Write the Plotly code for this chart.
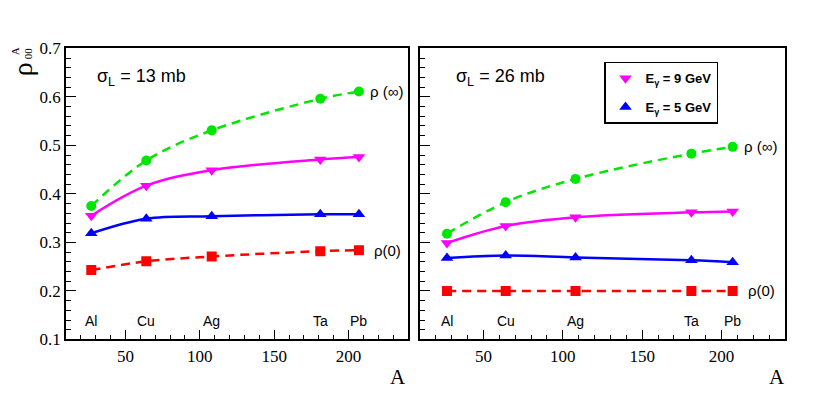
import plotly.graph_objects as go

# mass numbers of the targets
A = [27, 64, 108, 181, 207]
targets = ["Al", "Cu", "Ag", "Ta", "Pb"]

# sigma_L = 13 mb
rho_inf_13 = [0.375, 0.469, 0.531, 0.596, 0.611]
e9_13 = [0.355, 0.417, 0.449, 0.471, 0.476]
e5_13 = [0.319, 0.349, 0.354, 0.358, 0.358]
rho0_13 = [0.243, 0.261, 0.271, 0.282, 0.284]

# sigma_L = 26 mb
rho_inf_26 = [0.318, 0.383, 0.431, 0.483, 0.497]
e9_26 = [0.299, 0.334, 0.352, 0.362, 0.364]
e5_26 = [0.268, 0.273, 0.269, 0.263, 0.259]
rho0_26 = [0.200, 0.200, 0.200, 0.200, 0.200]

GREEN = "#00e600"
MAGENTA = "#ff00ff"
BLUE = "#0000ff"
RED = "#ff0000"

# page body has an 8px margin, so the figure is a bit smaller and offset
OFF = 8
W, H = 830 - OFF, 397 - OFF
def px(x): return (x - OFF) / W
def py(y): return 1 - (y - OFF) / H

fig = go.Figure()

panels = [
    ("x", "y", rho_inf_13, e9_13, e5_13, rho0_13),
    ("x2", "y2", rho_inf_26, e9_26, e5_26, rho0_26),
]
for xa, ya, r_inf, e9, e5, r0 in panels:
    fig.add_trace(go.Scatter(x=A, y=r_inf, xaxis=xa, yaxis=ya, mode="lines+markers",
                             line=dict(color=GREEN, width=2.5, dash="9px,6px", shape="spline"),
                             marker=dict(symbol="circle", size=10, color=GREEN), showlegend=False))
    fig.add_trace(go.Scatter(x=A, y=e9, xaxis=xa, yaxis=ya, mode="lines+markers",
                             line=dict(color=MAGENTA, width=2.5, shape="spline"),
                             marker=dict(symbol="triangle-down", size=11, color=MAGENTA), showlegend=False))
    fig.add_trace(go.Scatter(x=A, y=e5, xaxis=xa, yaxis=ya, mode="lines+markers",
                             line=dict(color=BLUE, width=2.5, shape="spline"),
                             marker=dict(symbol="triangle-up", size=11, color=BLUE), showlegend=False))
    fig.add_trace(go.Scatter(x=A, y=r0, xaxis=xa, yaxis=ya, mode="lines+markers",
                             line=dict(color=RED, width=2.5, dash="9px,6px", shape="spline"),
                             marker=dict(symbol="square", size=10, color=RED), showlegend=False))

# legend entries (markers only)
fig.add_trace(go.Scatter(x=[None], y=[None], xaxis="x2", yaxis="y2", mode="markers",
                         marker=dict(symbol="triangle-down", size=11, color=MAGENTA),
                         name="<b>E<sub>γ</sub> = 9 GeV</b>", legendgroup="a"))
fig.add_trace(go.Scatter(x=[None], y=[None], xaxis="x2", yaxis="y2", mode="markers",
                         marker=dict(symbol="triangle-up", size=11, color=BLUE),
                         name="<b>E<sub>γ</sub> = 5 GeV</b>", legendgroup="b"))

tickfont = dict(family="Liberation Serif", size=17, color="black")
xcommon = dict(range=[10, 240], tickvals=[50, 100, 150, 200], ticks="inside", ticklen=10,
               tickwidth=1, tickcolor="black", showline=True, linecolor="black", linewidth=1.5,
               mirror=True, showgrid=False, zeroline=False, tickfont=tickfont,
               minor=dict(dtick=10, tick0=0, ticks="inside", ticklen=5, tickcolor="black"))
ycommon = dict(range=[0.1, 0.7], dtick=0.1, tick0=0.1, ticks="inside", ticklen=10,
               tickwidth=1, tickcolor="black", showline=True, linecolor="black", linewidth=1.5,
               mirror=True, showgrid=False, zeroline=False, tickfont=tickfont,
               minor=dict(dtick=0.02, tick0=0.1, ticks="inside", ticklen=5, tickcolor="black"))

ydom = [py(347), py(41)]
fig.update_layout(
    width=W, height=H,
    margin=dict(l=0, r=0, t=0, b=0),
    plot_bgcolor="white", paper_bgcolor="white",
    font=dict(color="black"),
    xaxis=dict(domain=[px(66), px(408)], anchor="y", **xcommon),
    yaxis=dict(domain=ydom, anchor="x", tickformat=".1f", **ycommon),
    xaxis2=dict(domain=[px(420), px(785)], anchor="y2", **xcommon),
    yaxis2=dict(domain=ydom, anchor="x2", showticklabels=False, **ycommon),
    legend=dict(x=px(604), y=py(55), xanchor="left", yanchor="top",
                bordercolor="black", borderwidth=1.5, bgcolor="white",
                font=dict(family="Liberation Sans", size=13, color="black"),
                tracegroupgap=9, itemwidth=30),
    showlegend=True,
)

sans = dict(family="Liberation Sans", color="black")
serif = dict(family="Liberation Serif", color="black")
ann = []
# panel labels
ann.append(dict(x=px(95), y=py(72), xref="paper", yref="paper", xanchor="left", yanchor="middle",
                text="σ<sub>L</sub> = 13 mb", showarrow=False, font=dict(size=18, **sans)))
ann.append(dict(x=px(454), y=py(72), xref="paper", yref="paper", xanchor="left", yanchor="middle",
                text="σ<sub>L</sub> = 26 mb", showarrow=False, font=dict(size=18, **sans)))
# target labels
for xr, yr in [("x", "y"), ("x2", "y2")]:
    for a, t in zip(A, targets):
        ann.append(dict(x=a, y=0.137, xref=xr, yref=yr, text=t, showarrow=False,
                        xanchor="center", yanchor="middle", font=dict(size=14, **sans)))
# curve labels
for xr, yr, r_inf, r0 in [("x", "y", rho_inf_13, rho0_13), ("x2", "y2", rho_inf_26, rho0_26)]:
    ann.append(dict(x=A[-1], y=r_inf[-1], xref=xr, yref=yr, xanchor="left", yanchor="middle",
                    xshift=9, text="ρ (∞)", showarrow=False, font=dict(size=15, **sans)))
    ann.append(dict(x=A[-1], y=r0[-1], xref=xr, yref=yr, xanchor="left", yanchor="middle",
                    xshift=13, text="ρ(0)", showarrow=False, font=dict(size=15, **sans)))
# axis titles
for xpx in [398, 777]:
    ann.append(dict(x=px(xpx), y=py(386), xref="paper", yref="paper", text="A", showarrow=False,
                    xanchor="center", yanchor="middle", font=dict(size=21, **serif)))
ann.append(dict(x=px(22), y=py(63), xref="paper", yref="paper", text="ρ", textangle=-90,
                xanchor="center", yanchor="middle", showarrow=False, font=dict(size=28, **serif)))
ann.append(dict(x=px(15), y=py(44), xref="paper", yref="paper", text="A", textangle=-90,
                xanchor="center", yanchor="middle", showarrow=False, font=dict(size=11, **serif)))
ann.append(dict(x=px(28), y=py(46), xref="paper", yref="paper", text="00", textangle=-90,
                xanchor="center", yanchor="middle", showarrow=False, font=dict(size=11, **serif)))
fig.update_layout(annotations=ann)

fig.write_html("out.html")
